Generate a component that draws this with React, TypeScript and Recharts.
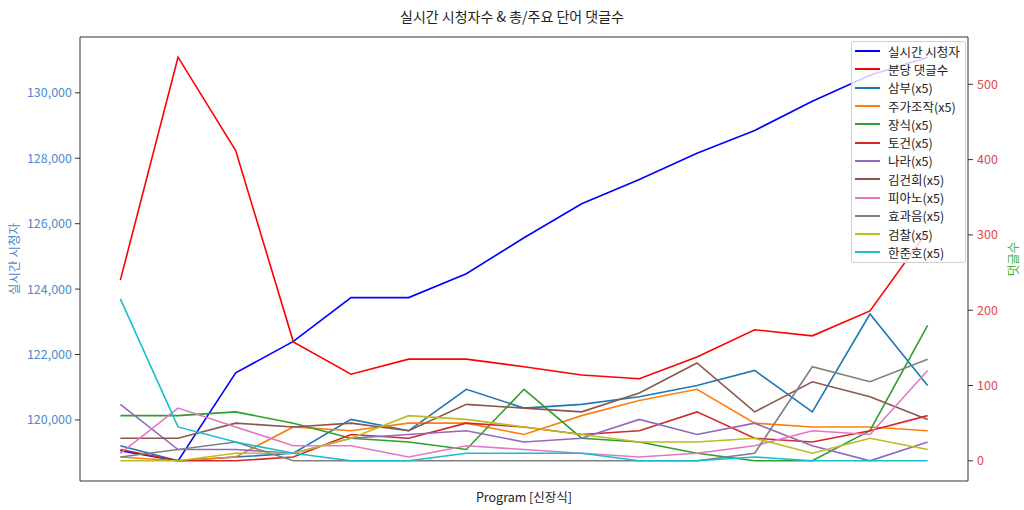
import React from "react";
import { LineChart, Line, XAxis, YAxis, Legend, ReferenceLine } from "recharts";

const FONT = "'Noto Sans CJK KR', 'Noto Sans', sans-serif";

// 15 samples along the program
const steps = [0, 1, 2, 3, 4, 5, 6, 7, 8, 9, 10, 11, 12, 13, 14];

// left axis
const viewers = [119060, 118750, 121440, 122400, 123740, 123740, 124470, 125570, 126610, 127350, 128150, 128850, 129740, 130540, 131090];

// right axis
const comments = [240, 536, 412, 158, 115, 135, 135, 125, 114, 109, 138, 174, 166, 199, 305];
const sambu = [20, 0, 5, 10, 55, 40, 95, 70, 75, 85, 100, 120, 65, 195, 100];
const stockManip = [5, 0, 5, 45, 40, 50, 50, 35, 60, 80, 95, 50, 45, 45, 40];
const jangsik = [60, 60, 65, 50, 30, 25, 15, 95, 30, 25, 10, 0, 0, 40, 180];
const togeon = [15, 0, 0, 5, 35, 30, 50, 45, 35, 40, 65, 30, 25, 40, 60];
const nara = [75, 15, 15, 10, 30, 35, 40, 25, 30, 55, 35, 50, 20, 0, 25];
const kimGunhee = [30, 30, 50, 45, 50, 40, 75, 70, 65, 90, 130, 65, 105, 85, 55];
const piano = [10, 70, 45, 20, 20, 5, 20, 15, 10, 5, 10, 20, 40, 35, 120];
const soundFx = [5, 15, 25, 0, 0, 0, 0, 0, 0, 0, 0, 10, 125, 105, 135];
const prosecution = [0, 0, 10, 10, 30, 60, 55, 45, 35, 25, 25, 30, 10, 30, 15];
const hanJunho = [215, 45, 25, 10, 0, 0, 10, 10, 10, 0, 0, 5, 0, 0, 0];

const leftTicks = [120000, 122000, 124000, 126000, 128000, 130000];
const rightTicks = [0, 100, 200, 300, 400, 500];

const series = [
  { key: "viewers", name: "실시간 시청자", color: "#0000ff", values: viewers, axis: "left" },
  { key: "comments", name: "분당 댓글수", color: "#ff0000", values: comments, axis: "right" },
  { key: "sambu", name: "삼부(x5)", color: "#1f77b4", values: sambu, axis: "right" },
  { key: "stock", name: "주가조작(x5)", color: "#ff7f0e", values: stockManip, axis: "right" },
  { key: "jangsik", name: "장식(x5)", color: "#2ca02c", values: jangsik, axis: "right" },
  { key: "togeon", name: "토건(x5)", color: "#d62728", values: togeon, axis: "right" },
  { key: "nara", name: "나라(x5)", color: "#9467bd", values: nara, axis: "right" },
  { key: "kim", name: "김건희(x5)", color: "#8c564b", values: kimGunhee, axis: "right" },
  { key: "piano", name: "피아노(x5)", color: "#e377c2", values: piano, axis: "right" },
  { key: "sfx", name: "효과음(x5)", color: "#7f7f7f", values: soundFx, axis: "right" },
  { key: "pros", name: "검찰(x5)", color: "#bcbd22", values: prosecution, axis: "right" },
  { key: "han", name: "한준호(x5)", color: "#17becf", values: hanJunho, axis: "right" },
];

const data = steps.map((s, i) => {
  const row: Record<string, number> = { step: s };
  series.forEach((sr) => (row[sr.key] = sr.values[i]));
  return row;
});

// matplotlib-style 5% margins
const pad = (vals: number[]) => {
  const lo = Math.min(...vals);
  const hi = Math.max(...vals);
  const m = (hi - lo) * 0.05;
  return [lo - m, hi + m];
};
const leftDomain = pad(viewers);
const rightDomain = pad(series.filter((s) => s.axis === "right").flatMap((s) => s.values));
const xDomain = [steps[0] - 0.7, steps[steps.length - 1] + 0.7];

const AXIS = "#333";

function SideLabel({ viewBox, value, color, dx }: any) {
  const cx = viewBox.x + dx;
  const cy = viewBox.y + viewBox.height / 2;
  return (
    <text
      x={cx}
      y={cy}
      transform={`rotate(-90 ${cx} ${cy})`}
      textAnchor="middle"
      dominantBaseline="central"
      fill={color}
      fontSize={12.5}
      fontFamily={FONT}
    >
      {value}
    </text>
  );
}

function LegendBox() {
  return (
    <div
      style={{
        background: "rgba(255,255,255,0.8)",
        border: "1px solid #d0d0d0",
        borderRadius: 3,
        padding: "0 4px 0 3px",
        fontFamily: FONT,
        fontSize: 12.5,
        color: "#222",
      }}
    >
      {series.map((s) => (
        <div key={s.key} style={{ display: "flex", alignItems: "center", height: 18.3 }}>
          <span style={{ width: 25, height: 2, background: s.color, marginRight: 8 }} />
          <span style={{ whiteSpace: "nowrap" }}>{s.name}</span>
        </div>
      ))}
    </div>
  );
}

export default function App() {
  return (
    <div style={{ position: "fixed", left: 0, top: 0, width: 1024, height: 510, background: "#fff" }}>
      <div
        style={{
          position: "absolute",
          top: 6,
          left: 0,
          width: 1024,
          textAlign: "center",
          fontFamily: FONT,
          fontSize: 14,
          color: "#222",
        }}
      >
        실시간 시청자수 &amp; 총/주요 단어 댓글수
      </div>
      <LineChart width={1024} height={510} data={data} margin={{ top: 37, right: 0, bottom: 0, left: 0 }}>
        <XAxis
          dataKey="step"
          type="number"
          domain={xDomain}
          allowDataOverflow
          height={29}
          tick={false}
          tickLine={false}
          axisLine={{ stroke: AXIS }}
          label={{
            value: "Program [신장식]",
            position: "insideBottom",
            offset: 8,
            style: { fontSize: 12.5, fontFamily: FONT, fill: "#222" },
          }}
        />
        <YAxis
          yAxisId="left"
          orientation="left"
          width={80}
          domain={leftDomain}
          allowDataOverflow
          ticks={leftTicks}
          tickFormatter={(v) => v.toLocaleString("en-US")}
          tick={{ fill: "#4a8ccc", fontSize: 12.5, fontFamily: FONT }}
          tickSize={5}
          tickMargin={3}
          tickLine={{ stroke: AXIS }}
          axisLine={{ stroke: AXIS }}
          label={<SideLabel value="실시간 시청자" color="#4a8ccc" dx={13} />}
        />
        <YAxis
          yAxisId="right"
          orientation="right"
          width={56}
          domain={rightDomain}
          allowDataOverflow
          ticks={rightTicks}
          tick={{ fill: "#dd4c4c", fontSize: 12.5, fontFamily: FONT }}
          tickSize={5}
          tickMargin={4}
          tickLine={{ stroke: AXIS }}
          axisLine={{ stroke: AXIS }}
          label={<SideLabel value="댓글수" color="#3fae3f" dx={44} />}
        />
        {/* top spine */}
        <ReferenceLine yAxisId="left" y={leftDomain[1]} stroke={AXIS} ifOverflow="visible" />
        <Legend
          layout="vertical"
          align="center"
          verticalAlign="middle"
          content={() => <LegendBox />}
          wrapperStyle={{ position: "absolute", top: 41, left: 851, width: 115 }}
        />
        {series.map((s) => (
          <Line
            key={s.key}
            yAxisId={s.axis}
            dataKey={s.key}
            name={s.name}
            type="linear"
            stroke={s.color}
            strokeWidth={1.6}
            dot={false}
            isAnimationActive={false}
          />
        ))}
      </LineChart>
    </div>
  );
}
